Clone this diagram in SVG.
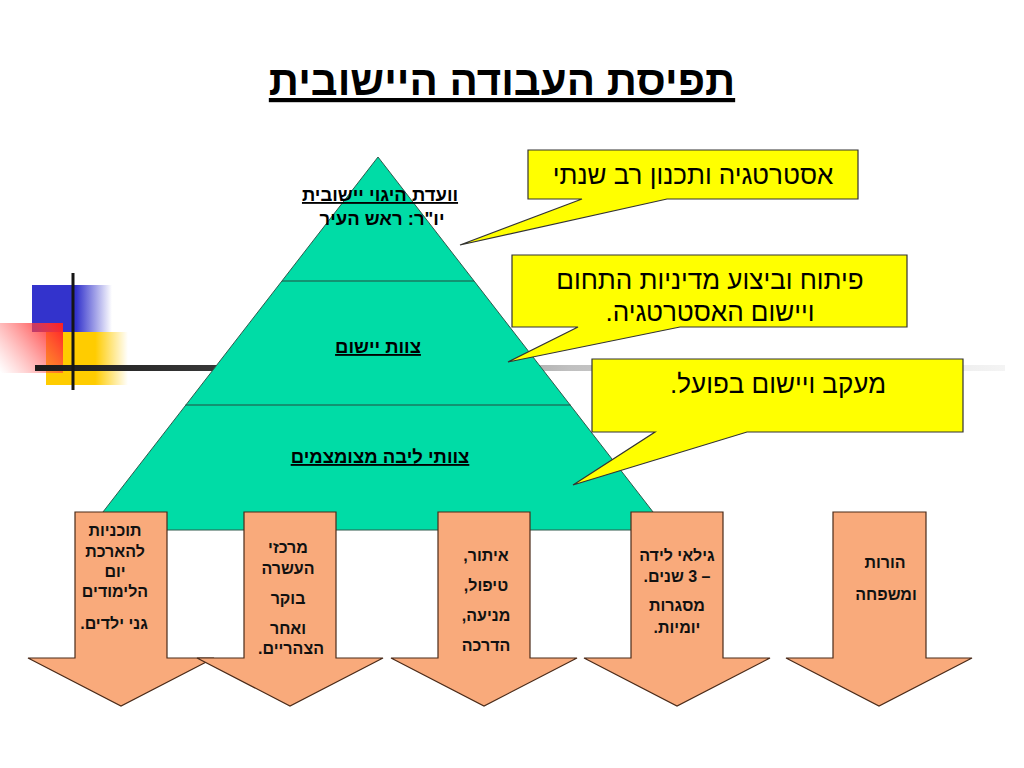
<svg xmlns="http://www.w3.org/2000/svg" width="1024" height="768" viewBox="0 0 1024 768">
<defs>
<style>
text{font-family:"Liberation Sans","DejaVu Sans",sans-serif;fill:#000}
.title{font-size:42px;font-weight:bold;text-decoration:underline}
.pyr{font-size:18.5px;font-weight:bold}
.u{text-decoration:underline}
.call{font-size:26px}
.arr{font-size:16px;font-weight:bold;fill:#111}
.arrow{fill:#F9AA7B;stroke:#4a2a18;stroke-width:1.2}
.bubble{fill:#FFFF00;stroke:#333;stroke-width:1.2}
.pyramid{fill:#00DCA6;stroke:#2f5a4c;stroke-width:1}
.div{stroke:#254a3e;stroke-width:1.2}
</style>
<linearGradient id="gBlue" x1="32" y1="0" x2="112" y2="0" gradientUnits="userSpaceOnUse">
<stop offset="0" stop-color="#3333CC"/><stop offset="0.55" stop-color="#3333CC"/><stop offset="1" stop-color="#3333CC" stop-opacity="0"/>
</linearGradient>
<linearGradient id="gYel" x1="46" y1="0" x2="128" y2="0" gradientUnits="userSpaceOnUse">
<stop offset="0" stop-color="#FFCC00"/><stop offset="0.6" stop-color="#FFCC00"/><stop offset="1" stop-color="#FFCC00" stop-opacity="0"/>
</linearGradient>
<linearGradient id="gRed" x1="63" y1="323" x2="0" y2="372" gradientUnits="userSpaceOnUse">
<stop offset="0" stop-color="#FF1F1F"/><stop offset="0.15" stop-color="#FF3030" stop-opacity="0.9"/><stop offset="1" stop-color="#FF7070" stop-opacity="0"/>
</linearGradient>
<linearGradient id="gLine" x1="35" y1="0" x2="1005" y2="0" gradientUnits="userSpaceOnUse">
<stop offset="0" stop-color="#1a1a1a"/><stop offset="0.2" stop-color="#3a3a3a"/><stop offset="0.55" stop-color="#c0c0c0"/><stop offset="1" stop-color="#f4f4f4"/>
</linearGradient>
</defs>
<rect width="1024" height="768" fill="#fff"/>

<g id="decoration">
<rect x="32" y="285" width="80" height="47" fill="url(#gBlue)"/>
<rect x="46" y="332" width="82" height="53" fill="url(#gYel)"/>
<rect x="0" y="323" width="63" height="50" fill="url(#gRed)"/>
<rect x="35" y="365" width="970" height="6" fill="url(#gLine)"/>
<rect x="71.5" y="273" width="3" height="117" fill="#151515"/>
</g>

<g id="title">
<text class="title" x="502" y="95" text-anchor="middle" direction="rtl">תפיסת העבודה היישובית</text>
</g>

<g id="pyramid">
<polygon class="pyramid" points="378,157 667,530 89,530"/>
<line class="div" x1="282" y1="281" x2="474" y2="281"/>
<line class="div" x1="185.5" y1="405" x2="570.5" y2="405"/>
<text class="pyr u" x="380" y="201" text-anchor="middle" direction="rtl">וועדת היגוי יישובית</text>
<text class="pyr" x="382" y="225" text-anchor="middle" direction="rtl">יו"ר: ראש העיר</text>
<text class="pyr u" x="378" y="353" text-anchor="middle" direction="rtl">צוות יישום</text>
<text class="pyr u" x="380" y="463" text-anchor="middle" direction="rtl">צוותי ליבה מצומצמים</text>
</g>

<g id="callout1">
<path class="bubble" d="M528,150 H858 V199 H667 L460,245 L582,199 H528 Z"/>
<text class="call" x="693" y="184" text-anchor="middle" direction="rtl">אסטרטגיה ותכנון רב שנתי</text>
</g>
<g id="callout2">
<path class="bubble" d="M512,255 H907 V327 H680 L508,362 L578,327 H512 Z"/>
<text class="call" x="710" y="289" text-anchor="middle" direction="rtl">פיתוח וביצוע מדיניות התחום</text>
<text class="call" x="710" y="321" text-anchor="middle" direction="rtl">ויישום האסטרטגיה.</text>
</g>
<g id="callout3">
<path class="bubble" d="M592,359 H963 V432 H747 L573,485 L655,432 H592 Z"/>
<text class="call" x="778" y="393" text-anchor="middle" direction="rtl">מעקב ויישום בפועל.</text>
</g>

<g id="connectors"></g>

<g id="arrow1">
<path class="arrow" d="M75,512 H167 V658 H214 L121,706 L28,658 H75 Z"/>
<text class="arr" x="115" y="536" text-anchor="middle" direction="rtl">תוכניות</text>
<text class="arr" x="115" y="557" text-anchor="middle" direction="rtl">להארכת</text>
<text class="arr" x="115" y="577" text-anchor="middle" direction="rtl">יום</text>
<text class="arr" x="115" y="597" text-anchor="middle" direction="rtl">הלימודים</text>
<text class="arr" x="114" y="629" text-anchor="middle" direction="rtl">גני ילדים.</text>
</g>
<g id="arrow2">
<path class="arrow" d="M244,512 H336 V658 H383 L290,706 L197,658 H244 Z"/>
<text class="arr" x="288" y="553" text-anchor="middle" direction="rtl">מרכזי</text>
<text class="arr" x="288" y="574" text-anchor="middle" direction="rtl">העשרה</text>
<text class="arr" x="288" y="604" text-anchor="middle" direction="rtl">בוקר</text>
<text class="arr" x="288" y="634" text-anchor="middle" direction="rtl">ואחר</text>
<text class="arr" x="291" y="654" text-anchor="middle" direction="rtl">הצהריים.</text>
</g>
<g id="arrow3">
<path class="arrow" d="M438,512 H530 V658 H577 L484,706 L391,658 H438 Z"/>
<text class="arr" x="486" y="561" text-anchor="middle" direction="rtl">איתור,</text>
<text class="arr" x="486" y="591" text-anchor="middle" direction="rtl">טיפול,</text>
<text class="arr" x="486" y="621" text-anchor="middle" direction="rtl">מניעה,</text>
<text class="arr" x="486" y="651" text-anchor="middle" direction="rtl">הדרכה</text>
</g>
<g id="arrow4">
<path class="arrow" d="M631,512 H723 V658 H770 L677,706 L584,658 H631 Z"/>
<text class="arr" x="677" y="561" text-anchor="middle" direction="rtl">גילאי לידה</text>
<text class="arr" x="677" y="582" text-anchor="middle" direction="rtl">– 3 שנים.</text>
<text class="arr" x="677" y="611" text-anchor="middle" direction="rtl">מסגרות</text>
<text class="arr" x="677" y="633" text-anchor="middle" direction="rtl">יומיות.</text>
</g>
<g id="arrow5">
<path class="arrow" d="M833,512 H926 V658 H972 L879,706 L786,658 H833 Z"/>
<text class="arr" x="885" y="568" text-anchor="middle" direction="rtl">הורות</text>
<text class="arr" x="886" y="600" text-anchor="middle" direction="rtl">ומשפחה</text>
</g>
</svg>
